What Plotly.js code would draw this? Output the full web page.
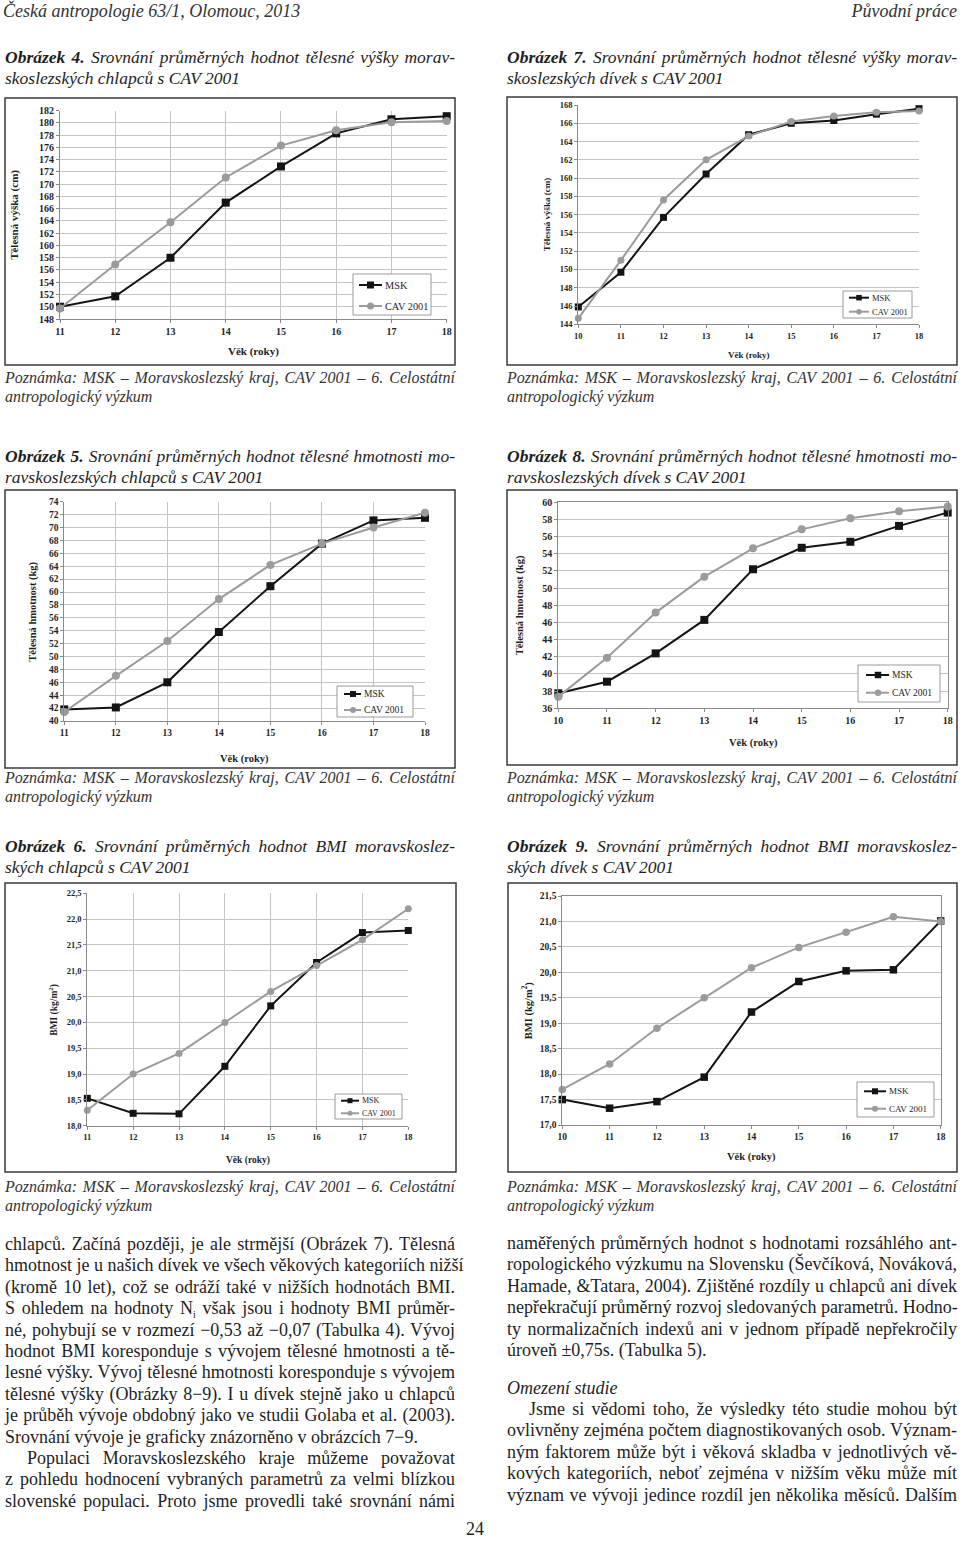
<!DOCTYPE html>
<html>
<head>
<meta charset="utf-8">
<script src="https://cdn.plot.ly/plotly-3.0.1.min.js"></script>
<style>
  html, body { margin:0; padding:0; background:#fff; }
  #page { position:relative; width:960px; height:1541px; overflow:hidden; font-family:"Liberation Serif", "DejaVu Serif", serif; color:#1e1e1e; }
  #chart { position:absolute; left:0; top:0; width:960px; height:1541px; z-index:1; }
  .blk { position:absolute; z-index:2; }
  .l { white-space:nowrap; text-align:justify; text-align-last:justify; }
  .n { white-space:nowrap; text-align:left; text-align-last:left; }
  .cap { font-style:italic; font-size:17.5px; line-height:21px; }
  .note { font-style:italic; font-size:16px; line-height:19px; color:#333; }
  .body { font-size:18px; line-height:21.4px; }
  .ind { padding-left:22px; }
  sub { font-size:10px; vertical-align:-4px; line-height:0; }
</style>
</head>
<body>
<div id="page">
  <div id="chart"></div>

  <div class="blk n" style="left:3px; top:1px; font-style:italic; font-size:18px; line-height:20px; color:#333;">Česká antropologie 63/1, Olomouc, 2013</div>
  <div class="blk n" style="right:3px; top:1px; font-style:italic; font-size:18px; line-height:20px; color:#333;">Původní práce</div>

  <div class="blk cap" style="left:5px; top:47px; width:450px;">
    <div class="l"><b>Obrázek 4.</b> Srovnání průměrných hodnot tělesné výšky morav-</div>
    <div class="n">skoslezských chlapců s CAV 2001</div>
  </div>
  <div class="blk cap" style="left:507px; top:47px; width:450px;">
    <div class="l"><b>Obrázek 7.</b> Srovnání průměrných hodnot tělesné výšky morav-</div>
    <div class="n">skoslezských dívek s CAV 2001</div>
  </div>

  <div class="blk note" style="left:5px; top:368px; width:450px;">
    <div class="l">Poznámka: MSK – Moravskoslezský kraj, CAV 2001 – 6. Celostátní</div>
    <div class="n">antropologický výzkum</div>
  </div>
  <div class="blk note" style="left:507px; top:368px; width:450px;">
    <div class="l">Poznámka: MSK – Moravskoslezský kraj, CAV 2001 – 6. Celostátní</div>
    <div class="n">antropologický výzkum</div>
  </div>

  <div class="blk cap" style="left:5px; top:446px; width:450px;">
    <div class="l"><b>Obrázek 5.</b> Srovnání průměrných hodnot tělesné hmotnosti mo-</div>
    <div class="n">ravskoslezských chlapců s CAV 2001</div>
  </div>
  <div class="blk cap" style="left:507px; top:446px; width:450px;">
    <div class="l"><b>Obrázek 8.</b> Srovnání průměrných hodnot tělesné hmotnosti mo-</div>
    <div class="n">ravskoslezských dívek s CAV 2001</div>
  </div>

  <div class="blk note" style="left:5px; top:768px; width:450px;">
    <div class="l">Poznámka: MSK – Moravskoslezský kraj, CAV 2001 – 6. Celostátní</div>
    <div class="n">antropologický výzkum</div>
  </div>
  <div class="blk note" style="left:507px; top:768px; width:450px;">
    <div class="l">Poznámka: MSK – Moravskoslezský kraj, CAV 2001 – 6. Celostátní</div>
    <div class="n">antropologický výzkum</div>
  </div>

  <div class="blk cap" style="left:5px; top:836px; width:450px;">
    <div class="l"><b>Obrázek 6.</b> Srovnání průměrných hodnot BMI moravskoslez-</div>
    <div class="n">ských chlapců s CAV 2001</div>
  </div>
  <div class="blk cap" style="left:507px; top:836px; width:450px;">
    <div class="l"><b>Obrázek 9.</b> Srovnání průměrných hodnot BMI moravskoslez-</div>
    <div class="n">ských dívek s CAV 2001</div>
  </div>

  <div class="blk note" style="left:5px; top:1177px; width:450px;">
    <div class="l">Poznámka: MSK – Moravskoslezský kraj, CAV 2001 – 6. Celostátní</div>
    <div class="n">antropologický výzkum</div>
  </div>
  <div class="blk note" style="left:507px; top:1177px; width:450px;">
    <div class="l">Poznámka: MSK – Moravskoslezský kraj, CAV 2001 – 6. Celostátní</div>
    <div class="n">antropologický výzkum</div>
  </div>

  <div class="blk body" style="left:5px; top:1234px; width:450px;">
    <div class="l">chlapců. Začíná později, je ale strmější (Obrázek 7). Tělesná</div>
    <div class="l">hmotnost je u našich dívek ve všech věkových kategoriích nižší</div>
    <div class="l">(kromě 10 let), což se odráží také v nižších hodnotách BMI.</div>
    <div class="l">S ohledem na hodnoty N<sub>i</sub> však jsou i hodnoty BMI průměr-</div>
    <div class="l">né, pohybují se v rozmezí −0,53 až −0,07 (Tabulka 4). Vývoj</div>
    <div class="l">hodnot BMI koresponduje s vývojem tělesné hmotnosti a tě-</div>
    <div class="l">lesné výšky. Vývoj tělesné hmotnosti koresponduje s vývojem</div>
    <div class="l">tělesné výšky (Obrázky 8−9). I u dívek stejně jako u chlapců</div>
    <div class="l">je průběh vývoje obdobný jako ve studii Golaba et al. (2003).</div>
    <div class="n">Srovnání vývoje je graficky znázorněno v obrázcích 7−9.</div>
    <div class="l ind">Populaci Moravskoslezského kraje můžeme považovat</div>
    <div class="l">z pohledu hodnocení vybraných parametrů za velmi blízkou</div>
    <div class="l">slovenské populaci. Proto jsme provedli také srovnání námi</div>
  </div>

  <div class="blk body" style="left:507px; top:1233px; width:450px;">
    <div class="l">naměřených průměrných hodnot s hodnotami rozsáhlého ant-</div>
    <div class="l">ropologického výzkumu na Slovensku (Ševčíková, Nováková,</div>
    <div class="l">Hamade, &amp;Tatara, 2004). Zjištěné rozdíly u chlapců ani dívek</div>
    <div class="l">nepřekračují průměrný rozvoj sledovaných parametrů. Hodno-</div>
    <div class="l">ty normalizačních indexů ani v jednom případě nepřekročily</div>
    <div class="n">úroveň ±0,75s. (Tabulka 5).</div>
  </div>
  <div class="blk body n" style="left:507px; top:1378px; font-style:italic;">Omezení studie</div>
  <div class="blk body" style="left:507px; top:1399px; width:450px;">
    <div class="l ind">Jsme si vědomi toho, že výsledky této studie mohou být</div>
    <div class="l">ovlivněny zejména počtem diagnostikovaných osob. Význam-</div>
    <div class="l">ným faktorem může být i věková skladba v jednotlivých vě-</div>
    <div class="l">kových kategoriích, neboť zejména v nižším věku může mít</div>
    <div class="l">význam ve vývoji jedince rozdíl jen několika měsíců. Dalším</div>
  </div>

  <div class="blk n" style="left:466px; top:1519px; font-size:18px; line-height:21px;">24</div>
</div>

<script>
// ---------- data ----------
const ages11 = [11, 12, 13, 14, 15, 16, 17, 18];
const ages10 = [10, 11, 12, 13, 14, 15, 16, 17, 18];
const seriesNames = ['MSK', 'CAV 2001'];

// Obrázek 4 – boys height (cm)
const boysHeightMSK = [150.0, 151.7, 158.0, 167.0, 172.9, 178.3, 180.6, 181.1];
const boysHeightCAV = [149.7, 156.9, 163.8, 171.1, 176.3, 178.8, 180.1, 180.3];
// Obrázek 7 – girls height (cm)
const girlsHeightMSK = [145.9, 149.7, 155.7, 160.45, 164.75, 166.0, 166.3, 167.0, 167.6];
const girlsHeightCAV = [144.65, 151.0, 157.6, 162.0, 164.6, 166.2, 166.8, 167.2, 167.35];
// Obrázek 5 – boys weight (kg)
const boysWeightMSK = [41.8, 42.1, 46.0, 53.8, 60.9, 67.5, 71.1, 71.5];
const boysWeightCAV = [41.4, 47.0, 52.4, 58.9, 64.2, 67.5, 70.0, 72.3];
// Obrázek 8 – girls weight (kg)
const girlsWeightMSK = [37.75, 39.1, 42.4, 46.3, 52.2, 54.7, 55.4, 57.25, 58.8];
const girlsWeightCAV = [37.36, 41.9, 47.15, 51.34, 54.64, 56.85, 58.14, 58.95, 59.5];
// Obrázek 6 – boys BMI
const boysBmiMSK = [18.53, 18.24, 18.23, 19.15, 20.32, 21.16, 21.74, 21.78];
const boysBmiCAV = [18.3, 19.0, 19.4, 20.0, 20.6, 21.1, 21.6, 22.2];
// Obrázek 9 – girls BMI
const girlsBmiMSK = [17.5, 17.33, 17.46, 17.94, 19.22, 19.82, 20.03, 20.05, 21.01];
const girlsBmiCAV = [17.7, 18.2, 18.9, 19.5, 20.09, 20.49, 20.79, 21.09, 21.0];

const yTitleHeight = 'Tělesná výška (cm)';
const yTitleWeight = 'Tělesná hmotnost (kg)';
const yTitleBmi = 'BMI (kg/m<sup>2</sup>)';
const xTitle = 'Věk (roky)';

// ---------- layout helpers (page pixels -> paper) ----------
const W = 960, H = 1541;
const px = v => v / W;
const py = v => 1 - v / H;
const FONT = 'Liberation Serif, Times New Roman, serif';
const MSK_COLOR = '#141414';
const CAV_COLOR = '#9b9b9b';

// legend: box [l,t,r,b], rows y, line x-span, marker centre x, text x, font size, glyph size
const panels = [
  { x: ages11, msk: boysHeightMSK, cav: boysHeightCAV, xr: [11, 18], yr: [148, 182], dt: 2, fmt: '',
    plot: [60, 110.7, 446.7, 319], vgrid: true, mirror: false, tfs: 10, ytitle: yTitleHeight, ytX: 15, xtY: 351,
    titleFs: 11, frame: [5, 98, 455, 365], ms: 8,
    leg: { box: [353, 274, 431, 315], rows: [285, 306], line: [359, 382], mx: 370.5, tx: 383, fs: 10.3, g: 7 } },
  { x: ages10, msk: girlsHeightMSK, cav: girlsHeightCAV, xr: [10, 18], yr: [144, 168], dt: 2, fmt: '',
    plot: [578.3, 105, 919, 324.3], vgrid: false, mirror: false, tfs: 8.5, ytitle: yTitleHeight, ytX: 546.7, xtY: 355,
    titleFs: 9, frame: [507, 97, 957, 365], ms: 7,
    leg: { box: [843, 291, 912, 318], rows: [297.7, 311.7], line: [849, 869], mx: 859, tx: 870, fs: 8.5, g: 5.5 } },
  { x: ages11, msk: boysWeightMSK, cav: boysWeightCAV, xr: [11, 18], yr: [40, 74], dt: 2, fmt: '',
    plot: [64.3, 501.7, 425, 721], vgrid: true, mirror: false, tfs: 9.5, ytitle: yTitleWeight, ytX: 33.3, xtY: 759.3,
    titleFs: 10.5, frame: [5, 490, 455, 768], ms: 8,
    leg: { box: [337, 686, 413, 717], rows: [694, 710], line: [344, 361], mx: 353, tx: 362, fs: 9.5, g: 6 } },
  { x: ages10, msk: girlsWeightMSK, cav: girlsWeightCAV, xr: [10, 18], yr: [36, 60], dt: 2, fmt: '',
    plot: [558.3, 502.3, 947.7, 708.3], vgrid: false, mirror: true, tfs: 10, ytitle: yTitleWeight, ytX: 520, xtY: 743.3,
    titleFs: 10.5, frame: [507, 490, 957, 765], ms: 8,
    leg: { box: [858, 665, 940, 702], rows: [675, 692.7], line: [866, 889], mx: 878, tx: 890, fs: 9.5, g: 6.5 } },
  { x: ages11, msk: boysBmiMSK, cav: boysBmiCAV, xr: [11, 18], yr: [18, 22.5], dt: 0.5, fmt: '.1f',
    plot: [87.3, 893.3, 408.3, 1125.7], vgrid: true, mirror: false, tfs: 8.5, ytitle: yTitleBmi, ytX: 53.3, xtY: 1160.7,
    titleFs: 9.5, frame: [5, 883, 456, 1172], ms: 7,
    leg: { box: [335, 1094, 402, 1119], rows: [1100.7, 1113.3], line: [341, 359], mx: 350, tx: 360, fs: 8, g: 5 } },
  { x: ages10, msk: girlsBmiMSK, cav: girlsBmiCAV, xr: [10, 18], yr: [17, 21.5], dt: 0.5, fmt: '.1f',
    plot: [562.3, 896, 940.7, 1125], vgrid: false, mirror: true, tfs: 9.5, ytitle: yTitleBmi, ytX: 526.7, xtY: 1156.7,
    titleFs: 10.5, frame: [508, 883, 957, 1172], ms: 7.5,
    leg: { box: [857, 1082, 934, 1117], rows: [1091.3, 1108.7], line: [864, 886], mx: 875, tx: 887, fs: 9, g: 6 } }
];

const traces = [];
const layout = {
  width: W, height: H,
  margin: { l: 0, r: 0, t: 0, b: 0 },
  paper_bgcolor: 'rgba(0,0,0,0)',
  plot_bgcolor: '#ffffff',
  separators: ', ',
  showlegend: false,
  annotations: [],
  shapes: []
};

panels.forEach((p, i) => {
  const s = i === 0 ? '' : String(i + 1);
  const [l, t, r, b] = p.plot;

  traces.push({
    x: p.x, y: p.msk, name: seriesNames[0], xaxis: 'x' + s, yaxis: 'y' + s,
    mode: 'lines+markers', cliponaxis: false,
    line: { color: MSK_COLOR, width: 2 },
    marker: { symbol: 'square', size: p.ms, color: MSK_COLOR }
  });
  traces.push({
    x: p.x, y: p.cav, name: seriesNames[1], xaxis: 'x' + s, yaxis: 'y' + s,
    mode: 'lines+markers', cliponaxis: false,
    line: { color: CAV_COLOR, width: 2 },
    marker: { symbol: 'circle', size: p.ms, color: CAV_COLOR }
  });

  const tickfont = { family: FONT, size: p.tfs, color: '#1e1e1e', weight: 'bold' };
  layout['xaxis' + s] = {
    domain: [px(l), px(r)], range: p.xr, anchor: 'y' + s,
    dtick: 1, tick0: p.xr[0], showgrid: p.vgrid, gridcolor: '#c4c4c4', gridwidth: 1,
    zeroline: false, showline: true, linecolor: '#8a8a8a', linewidth: 1, mirror: p.mirror,
    ticks: 'outside', ticklen: 3, tickcolor: '#8a8a8a', tickfont: tickfont, fixedrange: true
  };
  layout['yaxis' + s] = {
    domain: [py(b), py(t)], range: p.yr, anchor: 'x' + s,
    dtick: p.dt, tick0: p.yr[0], tickformat: p.fmt, showgrid: true, gridcolor: '#c4c4c4', gridwidth: 1,
    zeroline: false, showline: true, linecolor: '#8a8a8a', linewidth: 1, mirror: p.mirror,
    ticks: 'outside', ticklen: 3, tickcolor: '#8a8a8a', tickfont: tickfont, fixedrange: true
  };

  // axis titles
  layout.annotations.push({
    xref: 'paper', yref: 'paper', x: px((l + r) / 2), y: py(p.xtY), text: xTitle,
    showarrow: false, xanchor: 'center', yanchor: 'middle',
    font: { family: FONT, size: p.titleFs, color: '#1e1e1e', weight: 'bold' }
  });
  layout.annotations.push({
    xref: 'paper', yref: 'paper', x: px(p.ytX), y: py((t + b) / 2), text: p.ytitle,
    showarrow: false, xanchor: 'center', yanchor: 'middle', textangle: -90,
    font: { family: FONT, size: p.titleFs, color: '#1e1e1e', weight: 'bold' }
  });

  // legend box (Excel-style, compact)
  const L = p.leg;
  layout.shapes.push({
    type: 'rect', xref: 'paper', yref: 'paper', layer: 'above',
    x0: px(L.box[0]), x1: px(L.box[2]), y0: py(L.box[3]), y1: py(L.box[1]),
    fillcolor: '#ffffff', line: { color: '#9a9a9a', width: 1 }
  });
  const colors = [MSK_COLOR, CAV_COLOR];
  const symbols = ['rect', 'circle'];
  L.rows.forEach((ry, k) => {
    layout.shapes.push({
      type: 'line', xref: 'paper', yref: 'paper', layer: 'above',
      x0: px(L.line[0]), x1: px(L.line[1]), y0: py(ry), y1: py(ry),
      line: { color: colors[k], width: 2 }
    });
    layout.shapes.push({
      type: symbols[k], xref: 'paper', yref: 'paper', layer: 'above',
      x0: px(L.mx - L.g / 2), x1: px(L.mx + L.g / 2), y0: py(ry + L.g / 2), y1: py(ry - L.g / 2),
      fillcolor: colors[k], line: { color: colors[k], width: 0 }
    });
    layout.annotations.push({
      xref: 'paper', yref: 'paper', x: px(L.tx), y: py(ry), text: seriesNames[k],
      showarrow: false, xanchor: 'left', yanchor: 'middle',
      font: { family: FONT, size: L.fs, color: '#1e1e1e' }
    });
  });

  // outer chart frame
  const [fl, ft, fr, fb] = p.frame;
  layout.shapes.push({
    type: 'rect', xref: 'paper', yref: 'paper', layer: 'above',
    x0: px(fl), x1: px(fr), y0: py(fb), y1: py(ft),
    line: { color: '#3a3a3a', width: 1.5 }
  });
});

Plotly.newPlot('chart', traces, layout, { displayModeBar: false, staticPlot: true });
</script>
</body>
</html>
